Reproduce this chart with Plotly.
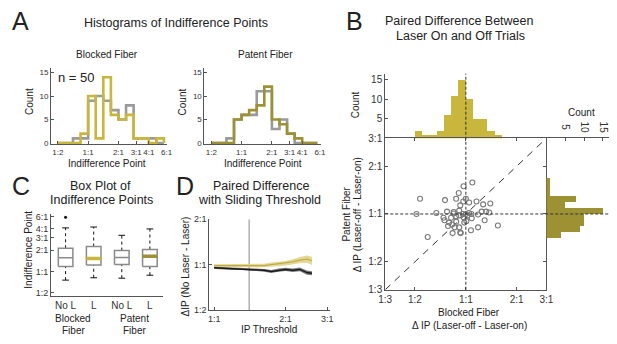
import numpy as np
import plotly.graph_objects as go

W, H = 617, 344
FONT = "Liberation Sans, Arial, sans-serif"

# ---------------- data ----------------
# Panel A: histograms of indifference points (log2 bins)
ip_tick_ratios = [0.5, 1, 2, 3, 4, 6]
ip_tick_labels = ["1:2", "1:1", "2:1", "3:1", "4:1", "6:1"]
hist_edges_log2 = [-1.0, -0.75, -0.5, -0.25, 0.0, 0.25, 0.5, 0.75, 1.0, 1.25, 1.5, 1.75, 2.0, 2.25, 2.5]
blocked_laser_off = [0, 0, 1, 1, 9, 10, 9, 7, 5, 8, 1, 1, 1, 0]
blocked_laser_on = [0, 0, 0, 2, 10, 1, 14, 6, 5, 6, 1, 1, 0, 1]
patent_laser_off = [0, 0, 1, 5, 6, 6, 11, 11, 3, 5, 2, 0, 0, 0]
patent_laser_on = [0, 0, 0, 5, 6, 7, 8, 12, 5, 4, 2, 1, 0, 0]
n_sessions = 50

# Panel B: paired differences (log2 of IP ratio)
diff_tick_ratios = [1 / 3, 1 / 2, 1, 2, 3]
diff_tick_labels = ["1:3", "1:2", "1:1", "2:1", "3:1"]
blocked_diff = [0.128, -0.045, -0.14, -0.90, -0.41, -0.19, 0.0, -0.05, 0.064, 0.21, 0.34, 0.48, -0.11,
                -0.97, -0.58, -0.37, -0.24, -0.24, -0.13, -0.06, 0.0, 0.03, 0.06, 0.11, 0.24, 0.31, 0.40,
                0.46, -0.44, -0.42, -0.29, -0.19, -0.13, -0.045, 0.115, 0.37, -0.35, -0.27, -0.22, -0.13,
                -0.03, 0.10, 0.24, -0.26, -0.11, -0.10, 0.63, -0.75, 0.01, -0.19, -0.33]
patent_diff = [0.66, 0.58, 0.44, 0.32, 0.29, 0.32, 0.32, 0.26, 0.24, 0.26, 0.20, 0.22, 0.18,
               0.0, 0.02, 0.05, 0.04, 0.01, 0.07, 0.0, 0.0, -0.03, 0.02, 0.0, -0.01, 0.05, 0.05,
               0.03, -0.08, -0.13, -0.08, -0.05, -0.03, -0.07, -0.09, -0.13, -0.25, -0.22, -0.28, -0.28,
               -0.18, -0.34, -0.28, -0.40, -0.39, -0.40, -0.24, -0.48, -0.15, -0.16, -0.18]
top_hist_edges = [-1.0, -0.857, -0.714, -0.571, -0.429, -0.286, -0.143, 0.0, 0.143, 0.286, 0.429, 0.571, 0.714]
top_hist_counts = [2, 1, 1, 2, 6, 11, 15, 10, 5, 5, 2, 1]
right_hist_edges = [-0.5, -0.375, -0.25, -0.125, 0.0, 0.125, 0.25, 0.375, 0.5, 0.625, 0.75]
right_hist_counts = [4, 9, 10, 10, 15, 5, 8, 1, 1, 1]
count_ticks = [5, 10, 15]

# Panel C: box plots (log2 IP)
box_labels = ["No L", "L", "No L", "L"]
box_low = [-0.41, -0.30, -0.32, -0.18]
box_q1 = [0.23, 0.30, 0.33, 0.23]
box_median = [0.64, 0.61, 0.65, 0.71]
box_q3 = [1.09, 1.17, 0.98, 1.03]
box_high = [2.05, 2.09, 1.70, 2.00]
box_outlier_group = [1]
box_outlier_value = [2.55]

# Panel D: sliding threshold (log2)
threshold_log2 = [0.0, 0.1, 0.2, 0.3, 0.4, 0.5, 0.6, 0.7, 0.8, 0.9, 1.0, 1.1, 1.2, 1.3, 1.37]
blocked_slide_mean = [-0.02, -0.02, -0.015, -0.02, -0.02, -0.02, -0.03, -0.02, 0.0, 0.015, 0.03, 0.06, 0.10, 0.12, 0.085]
blocked_slide_sem = [0.03, 0.03, 0.03, 0.03, 0.03, 0.035, 0.035, 0.04, 0.045, 0.05, 0.05, 0.06, 0.07, 0.08, 0.09]
patent_slide_mean = [-0.07, -0.077, -0.085, -0.09, -0.09, -0.10, -0.11, -0.125, -0.15, -0.12, -0.105, -0.125, -0.105, -0.175, -0.19]
patent_slide_sem = [0.025, 0.025, 0.025, 0.027, 0.027, 0.028, 0.03, 0.03, 0.033, 0.035, 0.035, 0.038, 0.04, 0.045, 0.045]
threshold_marker_log2 = 0.49

# ---------------- style ----------------
GRAY = "#9a9a9a"
YEL = "#c9b63c"
OLIVE = "#9c9233"
AX = "#555555"
TXT = "#222222"


def px(x):
    return x / W


def py(y):
    return 1 - y / H


fig = go.Figure()


def steps(edges, counts):
    xs, ys = [edges[0]], [0]
    for i, c in enumerate(counts):
        xs += [edges[i], edges[i + 1]]
        ys += [c, c]
    xs.append(edges[-1])
    ys.append(0)
    return xs, ys


# Panel A
for counts, col, ax in [(blocked_laser_off, GRAY, 1), (blocked_laser_on, YEL, 1),
                        (patent_laser_off, GRAY, 2), (patent_laser_on, OLIVE, 2)]:
    xs, ys = steps(hist_edges_log2, counts)
    fig.add_trace(go.Scatter(x=xs, y=ys, mode="lines", line=dict(color=col, width=2.6),
                             xaxis=f"x{ax}" if ax > 1 else "x", yaxis=f"y{ax}" if ax > 1 else "y"))

# Panel B top hist
te = np.array(top_hist_edges)
fig.add_trace(go.Bar(x=(te[:-1] + te[1:]) / 2, y=top_hist_counts, width=np.diff(te),
                     marker=dict(color=YEL, line=dict(width=0)), xaxis="x3", yaxis="y3"))
# right hist
re_ = np.array(right_hist_edges)
fig.add_trace(go.Bar(y=(re_[:-1] + re_[1:]) / 2, x=right_hist_counts, width=np.diff(re_), orientation="h",
                     marker=dict(color=OLIVE, line=dict(width=0)), xaxis="x5", yaxis="y5"))
# diagonal
lim = float(np.log2(3))
fig.add_trace(go.Scatter(x=[-lim, lim], y=[-lim, lim], mode="lines",
                         line=dict(color="#333333", width=1, dash="7px,6px"), xaxis="x4", yaxis="y4"))
fig.add_trace(go.Scatter(x=blocked_diff, y=patent_diff, mode="markers",
                         marker=dict(symbol="circle-open", size=5, color="#7a7a7a", line=dict(width=1.1)),
                         xaxis="x4", yaxis="y4"))

# Panel C boxes
hw, cw = 0.26, 0.12
for i in range(4):
    p = i + 1
    fig.add_trace(go.Scatter(x=[p, p], y=[box_q3[i], box_high[i]], mode="lines",
                             line=dict(color="#111", width=1, dash="dot"), xaxis="x6", yaxis="y6"))
    fig.add_trace(go.Scatter(x=[p, p], y=[box_low[i], box_q1[i]], mode="lines",
                             line=dict(color="#111", width=1, dash="dot"), xaxis="x6", yaxis="y6"))
    for v in (box_high[i], box_low[i]):
        fig.add_trace(go.Scatter(x=[p - cw, p + cw], y=[v, v], mode="lines",
                                 line=dict(color="#111", width=1), xaxis="x6", yaxis="y6"))
    fig.add_trace(go.Scatter(x=[p - hw, p + hw, p + hw, p - hw, p - hw],
                             y=[box_q1[i], box_q1[i], box_q3[i], box_q3[i], box_q1[i]], mode="lines",
                             fill="toself", fillcolor="white",
                             line=dict(color="#8a8a8a", width=1.5), xaxis="x6", yaxis="y6"))
    mcol = ["#8a8a8a", YEL, "#8a8a8a", OLIVE][i]
    mw = [1.5, 3.5, 1.5, 3.5][i]
    fig.add_trace(go.Scatter(x=[p - hw, p + hw], y=[box_median[i], box_median[i]], mode="lines",
                             line=dict(color=mcol, width=mw), xaxis="x6", yaxis="y6"))
fig.add_trace(go.Scatter(x=box_outlier_group, y=box_outlier_value, mode="markers",
                         marker=dict(color="#111", size=3), xaxis="x6", yaxis="y6"))

# Panel D
t = list(threshold_log2)
for mean, sem, fcol in [(blocked_slide_mean, blocked_slide_sem, "rgba(225,212,140,0.9)"),
                        (patent_slide_mean, patent_slide_sem, "rgba(80,80,80,0.75)")]:
    up = [m + s for m, s in zip(mean, sem)]
    lo = [m - s for m, s in zip(mean, sem)]
    fig.add_trace(go.Scatter(x=t + t[::-1], y=up + lo[::-1], mode="lines", fill="toself", fillcolor=fcol,
                             line=dict(width=0), xaxis="x7", yaxis="y7"))
for mean, lcol, lw in [(blocked_slide_mean, "#c2ad45", 1.2), (patent_slide_mean, "#1a1a1a", 1.5)]:
    fig.add_trace(go.Scatter(x=t, y=mean, mode="lines", line=dict(color=lcol, width=lw), xaxis="x7", yaxis="y7"))

# ---------------- axes ----------------
base = dict(showgrid=False, zeroline=False, showline=True, linecolor=AX, linewidth=1,
            ticks="inside", ticklen=3, tickcolor=AX, tickangle=0, ticklabeloverflow="allow",
            tickfont=dict(size=8, color="#333", family=FONT))

log_ip_ticks = list(np.log2(ip_tick_ratios))
lay = {}
lay["xaxis"] = dict(base, domain=[px(45), px(164)], range=[-1.226, 2.61], tickvals=log_ip_ticks,
                    ticktext=ip_tick_labels, anchor="y")
lay["yaxis"] = dict(base, domain=[py(143), py(64)], range=[-0.2, 16], tickvals=[0, 5, 10, 15], anchor="x")
lay["xaxis2"] = dict(base, domain=[px(202), px(321)], range=[-1.226, 2.61], tickvals=log_ip_ticks,
                     ticktext=ip_tick_labels, anchor="y2")
lay["yaxis2"] = dict(base, domain=[py(143), py(64)], range=[-0.2, 16], tickvals=[0, 5, 10, 15], anchor="x2")

f10 = dict(size=10, color="#333", family=FONT)
lay["xaxis3"] = dict(base, domain=[px(387), px(552)], range=[-lim, lim], showline=False, ticks="",
                     showticklabels=False, anchor="y3")
lay["yaxis3"] = dict(base, domain=[py(137), py(70)], range=[0, 16.5], tickvals=count_ticks, tickfont=f10,
                     anchor="x3")
diff_ticks = list(np.log2(diff_tick_ratios))
lay["xaxis4"] = dict(base, domain=[px(387), px(552)], range=[-lim, lim], tickvals=diff_ticks,
                     ticktext=diff_tick_labels, mirror="allticks", tickfont=f10, anchor="y4")
lay["yaxis4"] = dict(base, domain=[py(294), py(137)], range=[-lim, lim], tickvals=diff_ticks,
                     ticktext=diff_tick_labels, mirror="allticks", tickfont=f10, anchor="x4")
lay["xaxis5"] = dict(base, domain=[px(552), px(616)], range=[0, 16.6], side="top", tickvals=count_ticks,
                     showticklabels=False, anchor="y5")
lay["yaxis5"] = dict(base, domain=[py(294), py(137)], range=[-lim, lim], showline=False, ticks="",
                     showticklabels=False, anchor="x5")

lay["xaxis6"] = dict(base, domain=[px(45), px(160)], range=[0.48, 4.48], tickvals=[1, 2, 3, 4],
                     ticktext=box_labels, ticks="", tickfont=f10, anchor="y6")
lay["yaxis6"] = dict(base, domain=[py(300), py(215)], range=[-1.136, 2.727], tickvals=log_ip_ticks,
                     ticktext=ip_tick_labels, tickfont=dict(size=9, color="#333", family=FONT), anchor="x6")

f9 = dict(size=9, color="#333", family=FONT)
lay["xaxis7"] = dict(base, domain=[px(207), px(330)], range=[-0.068, 1.616], tickvals=list(np.log2([1, 2, 3])),
                     ticktext=["1:1", "2:1", "3:1"], tickfont=f9, anchor="y7")
lay["yaxis7"] = dict(base, domain=[py(315), py(221)], range=[-1, 1], tickvals=[-1, 0, 1],
                     ticktext=["1:2", "1:1", "2:1"], tickfont=f9, anchor="x7")

# ---------------- text ----------------
anns = []


def txt(x, y, s, size, angle=0, color=TXT):
    anns.append(dict(x=px(x), y=py(y), xref="paper", yref="paper", text=s, showarrow=False,
                     textangle=angle, font=dict(size=size, color=color, family=FONT),
                     xanchor="center", yanchor="middle"))


# rotated count tick labels of the right-hand histogram, placed on its x axis
for v in count_ticks:
    anns.append(dict(x=v, y=py(126), xref="x5", yref="paper", text=str(v), showarrow=False,
                     textangle=90, font=dict(size=10, color="#333", family=FONT),
                     xanchor="center", yanchor="middle"))

txt(14, 16, "A", 25)
txt(356, 16, "B", 25)
txt(14, 186, "C", 25)
txt(182, 186, "D", 25)
txt(173, 18, "Histograms of Indifference Points", 12.5)
txt(102, 50, "Blocked Fiber", 10)
txt(264, 50, "Patent Fiber", 10)
txt(71, 74, f"n = {n_sessions}", 13)
txt(23, 99, "Count", 10, -90)
txt(180, 99, "Count", 10, -90)
txt(102, 163, "Indifference Point", 10)
txt(262, 163, "Indifference Point", 10)

txt(463, 16, "Paired Difference Between", 12.5)
txt(464, 31, "Laser On and Off Trials", 12.5)
txt(357, 102, "Count", 10, -90)
txt(588, 110, "Count", 10)
txt(473, 318, "Blocked Fiber", 10)
txt(473, 331, "Δ IP (Laser-off - Laser-on)", 10)
txt(347, 216, "Patent Fiber", 10, -90)
txt(359, 216, "Δ IP (Laser-off - Laser-on)", 10, -90)

txt(96, 186, "Box Plot of", 12.5)
txt(97, 201, "Indifference Points", 12.5)
txt(22, 253, "Indifference Point", 10, -90)
txt(68, 324, "Blocked", 10)
txt(68, 336, "Fiber", 10)
txt(130, 324, "Patent", 10)
txt(130, 336, "Fiber", 10)

txt(260, 186, "Paired Difference", 12.5)
txt(258, 201, "with Sliding Threshold", 12.5)
txt(183, 270, "ΔIP (No Laser - Laser)", 10, -90)
txt(268, 335, "IP Threshold", 10)

shapes = [
    dict(type="line", xref="x4", yref="paper", x0=0, x1=0, y0=py(294), y1=py(70),
         line=dict(color="#333", width=1, dash="3px,2px"), layer="above"),
    dict(type="line", xref="paper", yref="y4", x0=px(387), x1=px(616), y0=0, y1=0,
         line=dict(color="#333", width=1, dash="3px,2px"), layer="above"),
    dict(type="line", xref="x7", yref="y7", x0=threshold_marker_log2, x1=threshold_marker_log2, y0=-1, y1=1,
         line=dict(color="#8a8a8a", width=1), layer="below"),
]

fig.update_layout(width=W, height=H, margin=dict(l=0, r=0, t=0, b=0), showlegend=False,
                  paper_bgcolor="white", plot_bgcolor="rgba(0,0,0,0)", barmode="overlay", bargap=0,
                  font=dict(family=FONT), annotations=anns, shapes=shapes, **lay)
fig.write_html("out.html", config={"displayModeBar": False},
               post_script="document.body.style.margin='0px';")
